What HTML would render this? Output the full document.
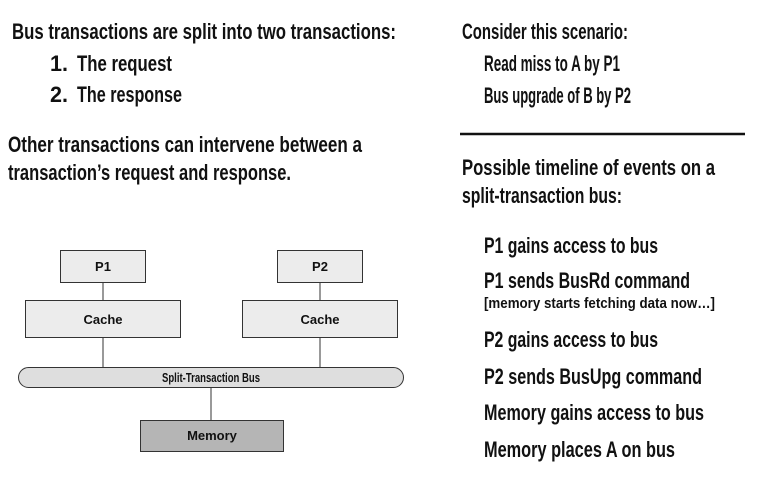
<!DOCTYPE html>
<html><head><meta charset="utf-8"><style>
html,body{margin:0;padding:0;background:#fff;width:759px;height:479px;overflow:hidden}
svg text{font-family:"Liberation Sans Narrow","Liberation Sans",sans-serif;font-weight:bold;fill:#111}
</style></head><body>
<svg width="759" height="479" viewBox="0 0 759 479" xmlns="http://www.w3.org/2000/svg">
<g font-size="22">
<text x="12" y="39" textLength="384" lengthAdjust="spacingAndGlyphs">Bus transactions are split into two transactions:</text>
<text x="50" y="71" textLength="18" lengthAdjust="spacingAndGlyphs">1.</text>
<text x="77" y="71" textLength="95" lengthAdjust="spacingAndGlyphs">The request</text>
<text x="50" y="102" textLength="18" lengthAdjust="spacingAndGlyphs">2.</text>
<text x="77" y="102" textLength="105" lengthAdjust="spacingAndGlyphs">The response</text>
<text x="8" y="152" textLength="354" lengthAdjust="spacingAndGlyphs">Other transactions can intervene between a</text>
<text x="8" y="180" textLength="283" lengthAdjust="spacingAndGlyphs">transaction’s request and response.</text>
<text x="462" y="39" textLength="166" lengthAdjust="spacingAndGlyphs">Consider this scenario:</text>
<text x="484" y="71" textLength="136" lengthAdjust="spacingAndGlyphs">Read miss to A by P1</text>
<text x="484" y="103" textLength="147" lengthAdjust="spacingAndGlyphs">Bus upgrade of B by P2</text>
<text x="462" y="175" textLength="253" lengthAdjust="spacingAndGlyphs">Possible timeline of events on a</text>
<text x="462" y="203" textLength="160" lengthAdjust="spacingAndGlyphs">split-transaction bus:</text>
<text x="484" y="253" textLength="174" lengthAdjust="spacingAndGlyphs">P1 gains access to bus</text>
<text x="484" y="288" textLength="206" lengthAdjust="spacingAndGlyphs">P1 sends BusRd command</text>
<text x="484" y="347" textLength="174" lengthAdjust="spacingAndGlyphs">P2 gains access to bus</text>
<text x="484" y="384" textLength="218" lengthAdjust="spacingAndGlyphs">P2 sends BusUpg command</text>
<text x="484" y="420" textLength="220" lengthAdjust="spacingAndGlyphs">Memory gains access to bus</text>
<text x="484" y="457" textLength="191" lengthAdjust="spacingAndGlyphs">Memory places A on bus</text>
</g>
<text x="484" y="308" font-size="15" textLength="231" lengthAdjust="spacingAndGlyphs">[memory starts fetching data now…]</text>
<line x1="460" y1="134" x2="745" y2="134" stroke="#111" stroke-width="2.5"/>
<g stroke="#333" stroke-width="1">
<line x1="103" y1="282" x2="103" y2="367"/>
<line x1="320" y1="282" x2="320" y2="367"/>
<line x1="211" y1="387" x2="211" y2="420"/>
<rect x="60.5" y="250.5" width="85" height="32" fill="#ececec"/>
<rect x="277.5" y="250.5" width="85" height="32" fill="#ececec"/>
<rect x="25.5" y="300.5" width="155" height="37" fill="#ececec"/>
<rect x="242.5" y="300.5" width="155" height="37" fill="#ececec"/>
<rect x="18.5" y="367.5" width="385" height="20" rx="10" fill="#dedede"/>
<rect x="140.5" y="420.5" width="143" height="31" fill="#b5b5b5"/>
</g>
<g font-size="13" text-anchor="middle">
<text x="103" y="271">P1</text>
<text x="320" y="271">P2</text>
<text x="103" y="324">Cache</text>
<text x="320" y="324">Cache</text>
<text x="211" y="382" textLength="98" lengthAdjust="spacingAndGlyphs">Split-Transaction Bus</text>
<text x="212" y="440">Memory</text>
</g>
</svg>
</body></html>
